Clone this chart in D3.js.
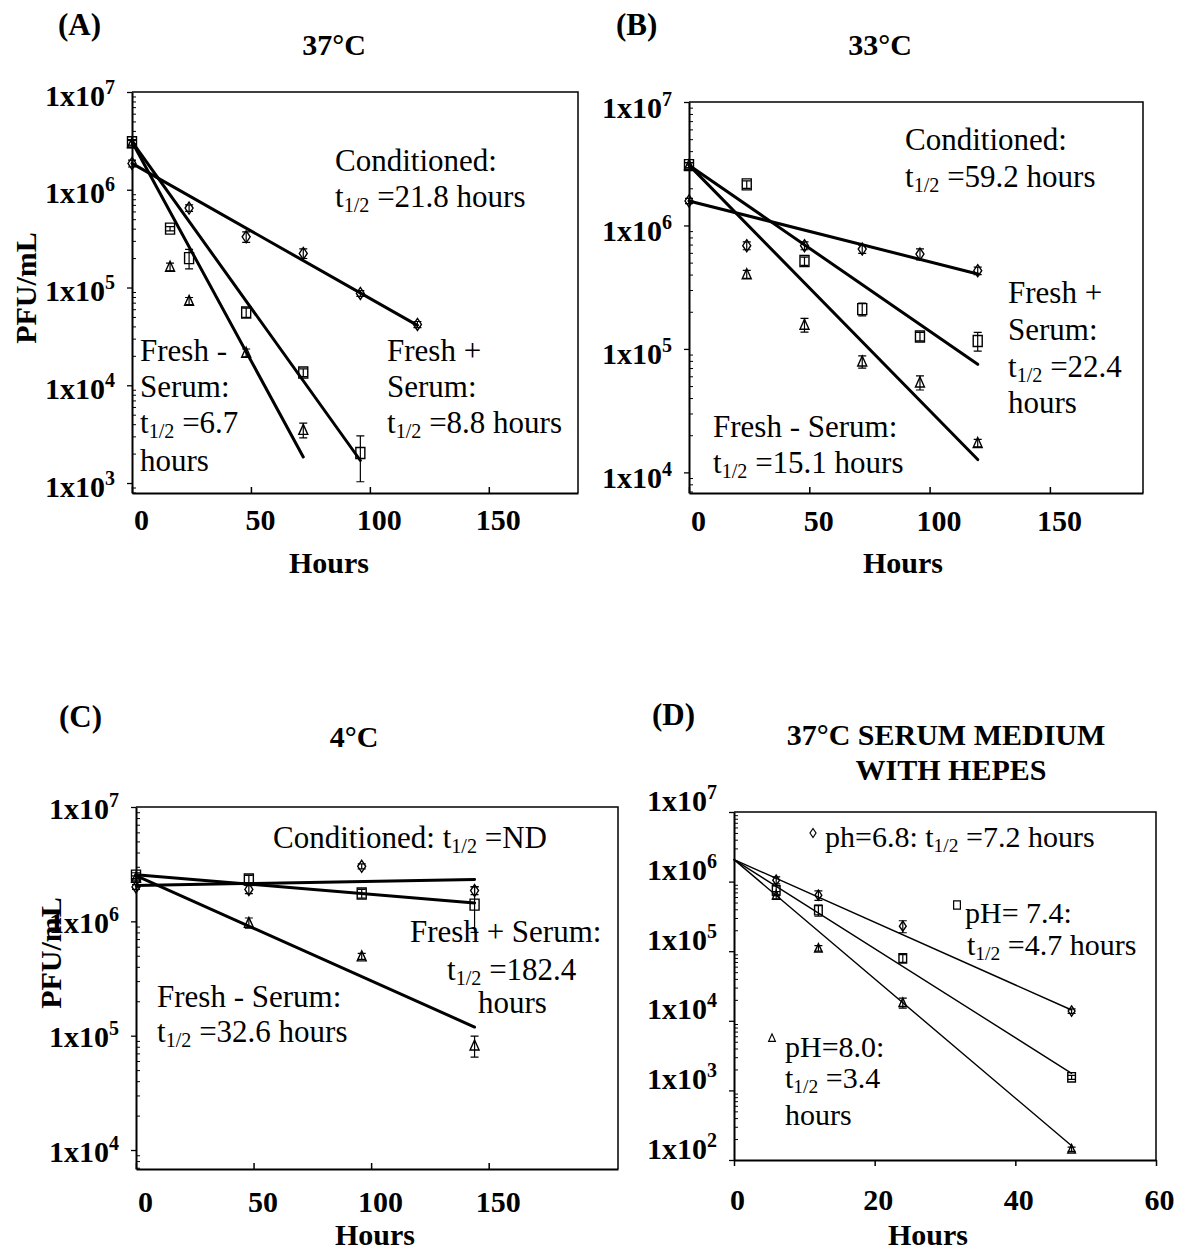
<!DOCTYPE html>
<html>
<head>
<meta charset="utf-8">
<script src="https://cdn.jsdelivr.net/npm/d3@7"></script>
<style>
  body { margin: 0; background: #fff; }
  svg { display: block; font-family: 'Liberation Serif', 'Times New Roman', serif; }
</style>
</head>
<body>
<svg id="chart" width="1179" height="1253"></svg>
<script>
// ---- values (hours, PFU/mL, +/- error) ----

// (A) 37°C
const condA_h = [0, 24, 48, 72, 96, 120];
const condA_v = [1.86e6, 6.5e5, 3.3e5, 2.23e5, 8.7e4, 4.19e4];
const condA_e = [1.5e5, 5e4, 4e4, 2.5e4, 6e3, 3e3];
const plusA_h = [0, 16, 24, 48, 72, 96];
const plusA_v = [3.06e6, 4.0e5, 2.0e5, 5.56e4, 1.35e4, 2.03e3];
const plusA_e = [2e5, 2e4, 4.5e4, 6e3, 1.2e3, 1.0e3];
const minusA_h = [0, 16, 24, 48, 72];
const minusA_v = [3.0e6, 1.63e5, 7.3e4, 2.15e4, 3.5e3];
const minusA_e = [2e5, 1.5e4, 6e3, 2e3, 6e2];
const fitA_cond = [[0, 1.86e6], [120, 4.1e4]];
const fitA_plus = [[0, 3.1e6], [96, 1.7e3]];
const fitA_minus = [[0, 3.1e6], [72, 1.85e3]];

// (B) 33°C
const hoursB = [0, 24, 48, 72, 96, 120];
const condB_v = [1.58e6, 6.86e5, 6.86e5, 6.44e5, 5.87e5, 4.3e5];
const condB_e = [8e4, 5e4, 5e4, 5e4, 6e4, 3e4];
const plusB_v = [3.08e6, 2.15e6, 5.15e5, 2.1e5, 1.26e5, 1.16e5];
const plusB_e = [1.5e5, 1.5e5, 4e4, 2.5e4, 1e4, 2e4];
const minusB_v = [3.08e6, 4.03e5, 1.57e5, 7.9e4, 5.35e4, 1.73e4];
const minusB_e = [1.5e5, 3e4, 2e4, 9e3, 7e3, 1.2e3];
const fitB_cond = [[0, 1.58e6], [120, 4.05e5]];
const fitB_plus = [[0, 3.08e6], [120, 7.5e4]];
const fitB_minus = [[0, 3.08e6], [120, 1.27e4]];

// (C) 4°C
const hoursC = [0, 48, 96, 144];
const condC_v = [2.0e6, 1.9e6, 3.03e6, 1.86e6];
const condC_e = [1e5, 1.5e5, 1.5e5, 1.5e5];
const plusC_v = [2.51e6, 2.32e6, 1.75e6, 1.4e6];
const plusC_e = [1.5e5, 2e5, 1.5e5, 6e5];
const minusC_v = [2.4e6, 9.7e5, 4.94e5, 8.2e4];
const minusC_e = [1e5, 1e5, 3e4, 1.7e4];
const fitC_cond = [[0, 2.06e6], [144, 2.32e6]];
const fitC_plus = [[0, 2.56e6], [144, 1.45e6]];
const fitC_minus = [[0, 2.51e6], [144, 1.19e5]];

// (D) 37°C serum medium with HEPES
const hoursD = [6, 12, 24, 48];
const ph68_v = [1.05e6, 6.37e5, 2.29e5, 1.38e4];
const ph68_e = [1.2e5, 1.0e5, 4.5e4, 1e3];
const ph74_v = [7.5e5, 3.88e5, 7.9e4, 1.54e3];
const ph74_e = [1.2e5, 7e4, 1e4, 100];
const ph80_v = [6.37e5, 1.1e5, 1.82e4, 143];
const ph80_e = [8e4, 1e4, 3e3, 10];
const fitD_68 = [[0, 2.07e6], [48, 1.43e4]];
const fitD_74 = [[0, 2.07e6], [48, 1.76e3]];
const fitD_80 = [[0, 2.07e6], [48, 160]];

const xTicksABC = [0, 50, 100, 150];
const xTicksD = [0, 20, 40, 60];

// ---- drawing ----
const svg = d3.select('#chart');
const FONT = "'Liberation Serif', 'Times New Roman', serif";

const shapePath = (shape, s) => {
  if (shape === 'diamond') return `M0,${-6 * s}L${4 * s},0L0,${6 * s}L${-4 * s},0Z`;
  if (shape === 'square') return `M${-4.5 * s},${-5.5 * s}h${9 * s}v${11 * s}h${-9 * s}Z`;
  return `M0,${-5.5 * s}L${4.5 * s},${4.5 * s}L${-4.5 * s},${4.5 * s}Z`;
};

const mkSeries = (shape, h, v, e) => h.map((d, i) => ({ shape, h: d, v: v[i], e: e[i] }));

// text with t_{1/2} style subscripts
const richText = (g, str, x, y, size, weight) => {
  const t = g.append('text').attr('x', x).attr('y', y).attr('font-size', size)
    .attr('font-weight', weight || 'normal').attr('font-family', FONT).attr('fill', '#000');
  const parts = str.split(/(_\{[^}]*\})/);
  let shift = 0;
  parts.filter((p) => p.length).forEach((p) => {
    if (p.startsWith('_{')) {
      t.append('tspan').attr('font-size', size * 0.65).attr('dy', 5 - shift).text(p.slice(2, -1));
      shift = 5;
    } else {
      t.append('tspan').attr('dy', -shift).text(p);
      shift = 0;
    }
  });
  return t;
};

const panels = [
  {
    box: { l: 132, t: 92, r: 578, b: 493 }, xMax: 187.5, yMin: Math.pow(10, 2.898),
    xTicks: xTicksABC, yTicks: [1e3, 1e4, 1e5, 1e6, 1e7], xTickIn: true,
    xLabDx: 9, xLabY: 37, yLabDy: 13, fitW: 3, markS: 1, noteSize: 31,
    letter: ['(A)', 58, 35], title: [['37°C', 334, 55]], hours: [329, 573], pfu: [36, 288],
    series: [mkSeries('diamond', condA_h, condA_v, condA_e), mkSeries('square', plusA_h, plusA_v, plusA_e),
      mkSeries('triangle', minusA_h, minusA_v, minusA_e)],
    fits: [fitA_cond, fitA_plus, fitA_minus],
    notes: [['Conditioned:', 335, 171], ['t_{1/2} =21.8 hours', 335, 207],
      ['Fresh -', 140, 361], ['Serum:', 140, 397], ['t_{1/2} =6.7', 140, 433], ['hours', 140, 471],
      ['Fresh +', 387, 361], ['Serum:', 387, 397], ['t_{1/2} =8.8 hours', 387, 433]],
  },
  {
    box: { l: 689, t: 102, r: 1143, b: 493 }, xMax: 188.7, yMin: Math.pow(10, 3.833),
    xTicks: xTicksABC, yTicks: [1e4, 1e5, 1e6, 1e7], xTickIn: true,
    xLabDx: 9, xLabY: 38, yLabDy: 15, fitW: 3, markS: 1, noteSize: 31,
    letter: ['(B)', 616, 35], title: [['33°C', 880, 55]], hours: [903, 573], pfu: null,
    series: [mkSeries('diamond', hoursB, condB_v, condB_e), mkSeries('square', hoursB, plusB_v, plusB_e),
      mkSeries('triangle', hoursB, minusB_v, minusB_e)],
    fits: [fitB_cond, fitB_plus, fitB_minus],
    notes: [['Conditioned:', 905, 150], ['t_{1/2} =59.2 hours', 905, 187],
      ['Fresh +', 1008, 303], ['Serum:', 1008, 340], ['t_{1/2} =22.4', 1008, 377], ['hours', 1008, 413],
      ['Fresh - Serum:', 713, 437], ['t_{1/2} =15.1 hours', 713, 473]],
  },
  {
    box: { l: 136, t: 807, r: 618, b: 1169 }, xMax: 205, yMin: Math.pow(10, 3.834),
    xTicks: xTicksABC, yTicks: [1e4, 1e5, 1e6, 1e7], xTickIn: true,
    xLabDx: 9, xLabY: 43, yLabDy: 11, fitW: 3, markS: 1, noteSize: 31,
    letter: ['(C)', 59, 727], title: [['4°C', 354, 747]], hours: [375, 1245], pfu: [61, 953],
    series: [mkSeries('diamond', hoursC, condC_v, condC_e), mkSeries('square', hoursC, plusC_v, plusC_e),
      mkSeries('triangle', hoursC, minusC_v, minusC_e)],
    fits: [fitC_cond, fitC_plus, fitC_minus],
    notes: [['Conditioned: t_{1/2} =ND', 273, 848],
      ['Fresh + Serum:', 410, 942], ['t_{1/2} =182.4', 447, 980], ['hours', 478, 1013],
      ['Fresh - Serum:', 157, 1007], ['t_{1/2} =32.6 hours', 157, 1042]],
  },
  {
    box: { l: 734, t: 812, r: 1156, b: 1160 }, xMax: 60, yMin: 1e2,
    xTicks: xTicksD, yTicks: [1e2, 1e3, 1e4, 1e5, 1e6, 1e7], xTickIn: false,
    xLabDx: 3, xLabY: 50, yLabDy: -2, fitW: 1.4, markS: 0.85, noteSize: 30,
    letter: ['(D)', 652, 725], title: [['37°C SERUM MEDIUM', 946, 745], ['WITH HEPES', 951, 780]],
    hours: [928, 1245], pfu: null,
    series: [mkSeries('diamond', hoursD, ph68_v, ph68_e), mkSeries('square', hoursD, ph74_v, ph74_e),
      mkSeries('triangle', hoursD, ph80_v, ph80_e)],
    fits: [fitD_68, fitD_74, fitD_80],
    notes: [['ph=6.8: t_{1/2} =7.2 hours', 825, 847], ['pH= 7.4:', 965, 923], ['t_{1/2} =4.7 hours', 967, 955],
      ['pH=8.0:', 785, 1057], ['t_{1/2} =3.4', 785, 1088], ['hours', 785, 1125]],
    keys: [['diamond', 813, 833], ['square', 957, 905], ['triangle', 772, 1038]],
  },
];

const drawPanel = (p) => {
  const { l, t, r, b } = p.box;
  const x = d3.scaleLinear([0, p.xMax], [l, r]);
  const y = d3.scaleLog([p.yMin, 1e7], [b, t]);
  const g = svg.append('g');

  // frame (top and right)
  g.append('path').attr('d', `M${l},${t}H${r}V${b}`).attr('fill', 'none')
    .attr('stroke', '#000').attr('stroke-width', 1.5);

  // x axis
  const gx = g.append('g').attr('transform', `translate(0,${b})`)
    .call(d3.axisBottom(x).tickValues(p.xTicks).tickSize(p.xTickIn ? -6 : 6).tickSizeOuter(0).tickFormat(d3.format('d')));
  gx.select('.domain').attr('stroke-width', 2);
  gx.selectAll('line').attr('stroke-width', 1.5);
  gx.selectAll('text').attr('y', p.xLabY).attr('dy', null).attr('x', p.xLabDx)
    .attr('font-size', 30).attr('font-weight', 'bold').attr('font-family', FONT).attr('fill', '#000');

  // y axis, major ticks
  const gy = g.append('g').attr('transform', `translate(${l},0)`)
    .call(d3.axisLeft(y).tickValues(p.yTicks).tickSize(5).tickSizeOuter(0).tickFormat(() => ''));
  gy.select('.domain').attr('stroke-width', 2);
  gy.selectAll('line').attr('stroke-width', 1.3);
  gy.selectAll('.tick text').each(function (d) {
    const tx = d3.select(this).attr('x', -17).attr('dy', null).attr('y', p.yLabDy)
      .attr('font-size', 30).attr('font-weight', 'bold').attr('font-family', FONT).attr('fill', '#000');
    tx.append('tspan').text('1x10');
    tx.append('tspan').attr('font-size', 20).attr('dy', -12).text(Math.round(Math.log10(d)));
  });

  // y axis, minor ticks
  const minor = [];
  d3.range(Math.floor(Math.log10(p.yMin)), 7).forEach((e) => {
    d3.range(2, 10).forEach((k) => { const v = k * Math.pow(10, e); if (v >= p.yMin) minor.push(v); });
  });
  const gm = g.append('g').attr('transform', `translate(${l},0)`)
    .call(d3.axisLeft(y).tickValues(minor).tickSize(-4).tickSizeOuter(0).tickFormat(() => ''));
  gm.select('.domain').remove();
  gm.selectAll('line').attr('stroke-width', 1);

  // fit lines
  const line = d3.line().x((d) => x(d[0])).y((d) => y(d[1]));
  p.fits.forEach((f) => {
    g.append('path').attr('d', line(f)).attr('fill', 'none').attr('stroke', '#000')
      .attr('stroke-width', p.fitW).attr('stroke-linecap', 'round');
  });

  // error bars + markers
  p.series.forEach((s) => {
    const pts = g.append('g').selectAll('g').data(s).join('g');
    pts.filter((d) => d.e > 0).each(function (d) {
      const cx = x(d.h);
      const y1 = y(d.v + d.e);
      const y0 = y(Math.max(d.v - d.e, p.yMin));
      d3.select(this).append('path').attr('d', `M${cx},${y1}V${y0}M${cx - 4},${y1}h8M${cx - 4},${y0}h8`)
        .attr('stroke', '#000').attr('stroke-width', 1.2).attr('fill', 'none');
    });
    pts.append('path').attr('transform', (d) => `translate(${x(d.h)},${y(d.v)})`)
      .attr('d', (d) => shapePath(d.shape, p.markS)).attr('fill', 'none')
      .attr('stroke', '#000').attr('stroke-width', 1.4);
  });

  // texts
  svg.append('text').attr('x', p.letter[1]).attr('y', p.letter[2]).attr('font-size', 31)
    .attr('font-weight', 'bold').attr('font-family', FONT).text(p.letter[0]);
  p.title.forEach(([txt, tx, ty]) => {
    svg.append('text').attr('x', tx).attr('y', ty).attr('text-anchor', 'middle').attr('font-size', 30)
      .attr('font-weight', 'bold').attr('font-family', FONT).text(txt);
  });
  svg.append('text').attr('x', p.hours[0]).attr('y', p.hours[1]).attr('text-anchor', 'middle')
    .attr('font-size', 30).attr('font-weight', 'bold').attr('font-family', FONT).text('Hours');
  if (p.pfu) {
    svg.append('text').attr('transform', `translate(${p.pfu[0]},${p.pfu[1]}) rotate(-90)`)
      .attr('text-anchor', 'middle').attr('font-size', 30).attr('font-weight', 'bold')
      .attr('font-family', FONT).text('PFU/mL');
  }
  p.notes.forEach(([txt, tx, ty]) => richText(svg, txt, tx, ty, p.noteSize));
  (p.keys || []).forEach(([shape, kx, ky]) => {
    svg.append('path').attr('transform', `translate(${kx},${ky})`).attr('d', shapePath(shape, 0.75))
      .attr('fill', 'none').attr('stroke', '#000').attr('stroke-width', 1.2);
  });
};

panels.forEach(drawPanel);
</script>
</body>
</html>
